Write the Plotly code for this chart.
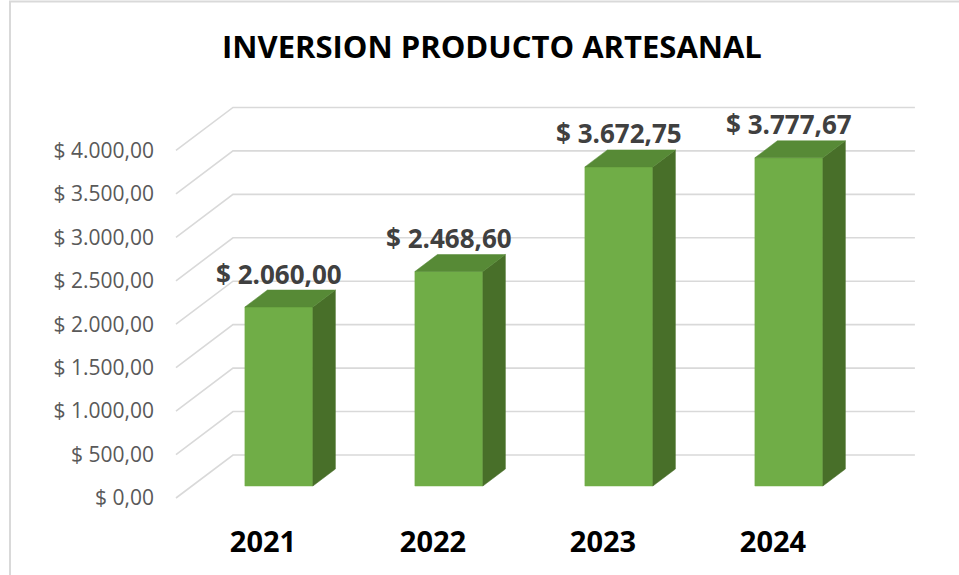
import plotly.graph_objects as go

# ---- data ----
years = ["2021", "2022", "2023", "2024"]
values = [2060.00, 2468.60, 3672.75, 3777.67]
tick_vals = [0, 500, 1000, 1500, 2000, 2500, 3000, 3500, 4000]
tick_text = ["$ 0,00", "$ 500,00", "$ 1.000,00", "$ 1.500,00", "$ 2.000,00",
             "$ 2.500,00", "$ 3.000,00", "$ 3.500,00", "$ 4.000,00"]
label_text = ["$ 2.060,00", "$ 2.468,60", "$ 3.672,75", "$ 3.777,67"]

# ---- 3D projection parameters (axis units) ----
DX = 0.3353      # full depth horizontal offset (category units)
DY = 494.9       # full depth vertical offset (value units)
D0, D1 = 0.279, 0.674   # bar front/back depth fractions
HALF = 0.2       # half bar width
XL = -0.5118     # left wall front x
XR_BACK = 3.835  # back wall right end

FRONT = "#70AD47"
TOP = "#578A36"
SIDE = "#486F29"
GRID = "#D9D9D9"

fig = go.Figure()

# gridlines (side wall diagonal + back wall horizontal)
gx, gy = [], []
for v in tick_vals:
    gx += [XL, XL + DX, XR_BACK, None]
    gy += [v, v + DY, v + DY, None]
fig.add_trace(go.Scatter(x=gx, y=gy, mode="lines", line=dict(color=GRID, width=1.6),
                         hoverinfo="skip", showlegend=False, cliponaxis=False))

# bars: front, side and top faces
for i, v in enumerate(values):
    xl, xr = i - HALF, i + HALF
    fig.add_trace(go.Scatter(
        x=[xl + D0 * DX, xr + D0 * DX, xr + D0 * DX, xl + D0 * DX, xl + D0 * DX],
        y=[D0 * DY, D0 * DY, v + D0 * DY, v + D0 * DY, D0 * DY],
        fill="toself", fillcolor=FRONT, mode="lines", line=dict(color=FRONT, width=0.5),
        hoverinfo="skip", showlegend=False))
    fig.add_trace(go.Scatter(
        x=[xr + D0 * DX, xr + D1 * DX, xr + D1 * DX, xr + D0 * DX, xr + D0 * DX],
        y=[D0 * DY, D1 * DY, v + D1 * DY, v + D0 * DY, D0 * DY],
        fill="toself", fillcolor=SIDE, mode="lines", line=dict(color=SIDE, width=0.5),
        hoverinfo="skip", showlegend=False))
    fig.add_trace(go.Scatter(
        x=[xl + D0 * DX, xr + D0 * DX, xr + D1 * DX, xl + D1 * DX, xl + D0 * DX],
        y=[v + D0 * DY, v + D0 * DY, v + D1 * DY, v + D1 * DY, v + D0 * DY],
        fill="toself", fillcolor=TOP, mode="lines", line=dict(color=TOP, width=0.5),
        hoverinfo="skip", showlegend=False))

# data labels
fig.add_trace(go.Scatter(
    x=[i + D0 * DX for i in range(len(values))],
    y=[v + D1 * DY for v in values],
    mode="text", text=label_text, textposition="top center",
    textfont=dict(family="Open Sans", size=26, color="#404040", weight="bold"),
    hoverinfo="skip", showlegend=False, cliponaxis=False))

fig.update_layout(
    width=959, height=575,
    margin=dict(l=170, r=40, t=90, b=65),
    paper_bgcolor="white", plot_bgcolor="white",
    title=dict(text="INVERSION PRODUCTO ARTESANAL", x=0.513, xref="container",
               y=1 - 47 / 575, yref="container", xanchor="center", yanchor="middle",
               font=dict(family="Open Sans", size=31, color="#000000", weight="bold")),
    xaxis=dict(range=[-0.547, 3.859], tickvals=list(range(len(years))), ticktext=years,
               showgrid=False, zeroline=False, showline=False, ticks="",
               ticklabelstandoff=12,
               tickfont=dict(family="Open Sans", size=29, color="#000000", weight="bold")),
    yaxis=dict(range=[-138.1, 4695.7], tickvals=tick_vals, ticktext=tick_text,
               showgrid=False, zeroline=False, showline=False, ticks="",
               ticklabelstandoff=15,
               tickfont=dict(family="Open Sans", size=21, color="#595959")),
    shapes=[dict(type="rect", xref="paper", yref="paper",
                 x0=(10 - 170) / 749, x1=(975 - 170) / 749,
                 y0=(510 - 600) / 420, y1=(510 - 1.5) / 420,
                 line=dict(color=GRID, width=2), fillcolor="rgba(0,0,0,0)", layer="below")],
)

fig.write_html("out.html", config={"displayModeBar": False},
               post_script="document.body.style.margin='0';")
